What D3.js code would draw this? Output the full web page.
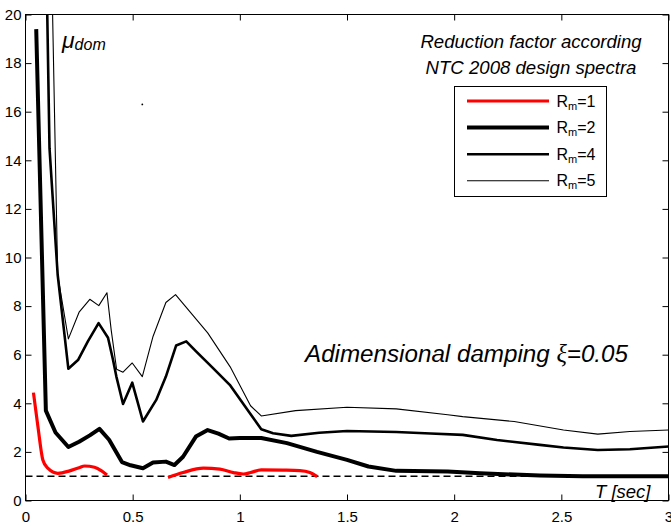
<!DOCTYPE html>
<html>
<head>
<meta charset="utf-8">
<script src="https://cdn.jsdelivr.net/npm/d3@7"></script>
<style>
body { margin: 0; background: #fff; }
svg text { font-family: "Liberation Sans", Arial, Helvetica, sans-serif; fill: #000; }
</style>
</head>
<body>
<div id="chart"></div>
<script>
// tick values / labels
const xTicks = [0, 0.5, 1, 1.5, 2, 2.5, 3]
const xTickLabels = ["0", "0.5", "1", "1.5", "2", "2.5", "3"]
const yTicks = [0, 2, 4, 6, 8, 10, 12, 14, 16, 18, 20]

// series: [period T (sec), mu_dom]
// Rm=1 has a gap (null) between its two pieces
const rm1 = [[0.037, 4.44], [0.058, 3.04], [0.081, 1.67], [0.104, 1.33], [0.151, 1.12], [0.206, 1.22], [0.25, 1.35], [0.276, 1.42], [0.322, 1.37], [0.355, 1.22], [0.38, 1.05],
  null,
  [0.665, 0.95], [0.735, 1.15], [0.83, 1.33], [0.907, 1.29], [0.97, 1.15], [1.016, 1.09], [1.05, 1.15], [1.1, 1.26], [1.2, 1.25], [1.28, 1.23], [1.327, 1.15], [1.361, 0.98]]

const rm2 = [[0.05, 19.4], [0.095, 3.7], [0.14, 2.8], [0.2, 2.2], [0.25, 2.42], [0.3, 2.68], [0.345, 2.95], [0.39, 2.5], [0.45, 1.58], [0.49, 1.45], [0.548, 1.33], [0.595, 1.56], [0.655, 1.6], [0.695, 1.46], [0.735, 1.8], [0.795, 2.63], [0.85, 2.9], [0.9, 2.75], [0.95, 2.55], [1.0, 2.57], [1.1, 2.57], [1.22, 2.36], [1.36, 2.0], [1.5, 1.67], [1.6, 1.4], [1.73, 1.22], [1.97, 1.19], [2.12, 1.12], [2.4, 1.03], [2.6, 1.0], [3.0, 1.0]]

const rm4 = [[0.05, 45], [0.1, 20.8], [0.112, 14.5], [0.15, 9.3], [0.2, 5.42], [0.245, 5.78], [0.291, 6.55], [0.341, 7.3], [0.385, 6.7], [0.408, 5.8], [0.424, 5.1], [0.455, 3.97], [0.498, 4.85], [0.52, 4.15], [0.548, 3.25], [0.61, 4.14], [0.655, 5.1], [0.703, 6.38], [0.75, 6.55], [0.797, 6.13], [0.875, 5.45], [0.953, 4.76], [1.047, 3.59], [1.1, 2.93], [1.155, 2.77], [1.24, 2.66], [1.37, 2.79], [1.5, 2.86], [1.73, 2.82], [1.89, 2.76], [2.04, 2.7], [2.2, 2.49], [2.4, 2.29], [2.51, 2.18], [2.67, 2.08], [2.82, 2.11], [3.0, 2.22]]

const rm5 = [[0.05, 60], [0.1, 32], [0.15, 9.3], [0.2, 6.65], [0.25, 7.75], [0.3, 8.28], [0.342, 8.02], [0.38, 8.55], [0.4, 7.0], [0.425, 5.4], [0.455, 5.28], [0.498, 5.66], [0.545, 5.1], [0.595, 6.75], [0.655, 8.15], [0.7, 8.47], [0.85, 6.9], [0.955, 5.5], [1.05, 3.9], [1.1, 3.48], [1.26, 3.7], [1.5, 3.84], [1.73, 3.77], [1.97, 3.53], [2.04, 3.45], [2.28, 3.25], [2.51, 2.9], [2.67, 2.73], [2.82, 2.84], [3.0, 2.9]]

const unitLine = [[0, 1], [3, 1]]
const strayPoint = [[0.545, 16.3]]

const legendLabels = ["1", "2", "4", "5"]

// svg
const svg = d3.select("#chart").append("svg").attr("width", 671).attr("height", 526)

const x = d3.scaleLinear().domain([0, 3]).range([25.5, 668.5])
const y = d3.scaleLinear().domain([0, 20]).range([500.5, 14.5])

svg.append("defs").append("clipPath").attr("id", "plot")
  .append("rect").attr("x", x(0)).attr("y", y(20)).attr("width", x(3) - x(0)).attr("height", y(0) - y(20))

// axes (ticks pointing in, matlab style)
const fontAxis = g => g.attr("font-family", "Liberation Sans, Arial, sans-serif").attr("font-size", 15)

svg.append("g").attr("transform", `translate(0,${y(0)})`)
  .call(d3.axisBottom(x).tickValues(xTicks).tickFormat((d, i) => xTickLabels[i]).tickSize(-6).tickSizeOuter(0).tickPadding(11))
  .call(fontAxis)
svg.append("g").attr("transform", `translate(0,${y(20)})`)
  .call(d3.axisTop(x).tickValues(xTicks).tickFormat("").tickSize(-6).tickSizeOuter(0))
svg.append("g").attr("transform", `translate(${x(0)},0)`)
  .call(d3.axisLeft(y).tickValues(yTicks).tickSize(-6).tickSizeOuter(0).tickPadding(4))
  .call(fontAxis)
svg.append("g").attr("transform", `translate(${x(3)},0)`)
  .call(d3.axisRight(y).tickValues(yTicks).tickFormat("").tickSize(-6).tickSizeOuter(0))

svg.selectAll(".domain").remove()
svg.selectAll(".tick line").attr("stroke", "#000")

// frame
svg.append("rect").attr("x", x(0)).attr("y", y(20)).attr("width", x(3) - x(0)).attr("height", y(0) - y(20))
  .attr("fill", "none").attr("stroke", "#000").attr("stroke-width", 1)

const plot = svg.append("g").attr("clip-path", "url(#plot)")

const line = d3.line().defined(d => d !== null).x(d => x(d[0])).y(d => y(d[1]))
const smooth = d3.line().defined(d => d !== null).x(d => x(d[0])).y(d => y(d[1])).curve(d3.curveMonotoneX)

// dashed mu = 1 line
plot.append("path").attr("d", line(unitLine)).attr("fill", "none").attr("stroke", "#000").attr("stroke-width", 1.5).attr("stroke-dasharray", "7,4")

plot.append("path").attr("d", line(rm5)).attr("fill", "none").attr("stroke", "#000").attr("stroke-width", 1.1).attr("stroke-linejoin", "round")
plot.append("path").attr("d", line(rm4)).attr("fill", "none").attr("stroke", "#000").attr("stroke-width", 2.6).attr("stroke-linejoin", "round")
plot.append("path").attr("d", line(rm2)).attr("fill", "none").attr("stroke", "#000").attr("stroke-width", 4).attr("stroke-linejoin", "round")
plot.append("path").attr("d", smooth(rm1)).attr("fill", "none").attr("stroke", "#f00").attr("stroke-width", 3.2).attr("stroke-linejoin", "round")

plot.selectAll(".stray").data(strayPoint).enter().append("circle").attr("class", "stray")
  .attr("cx", d => x(d[0])).attr("cy", d => y(d[1])).attr("r", 0.9).attr("fill", "#000")

// mu_dom label
const mu = svg.append("text").attr("x", 62).attr("y", 48).attr("font-style", "italic")
mu.append("tspan").attr("font-size", 23).text("μ")
mu.append("tspan").attr("font-size", 16).attr("dy", 2).text("dom")

// title
svg.append("text").attr("x", 531).attr("y", 48).attr("text-anchor", "middle").attr("font-size", 18.6).attr("font-style", "italic").text("Reduction factor according")
svg.append("text").attr("x", 531).attr("y", 73.5).attr("text-anchor", "middle").attr("font-size", 18.6).attr("font-style", "italic").text("NTC 2008 design spectra")

// legend
svg.append("rect").attr("x", 454.5).attr("y", 86.5).attr("width", 152).attr("height", 110).attr("fill", "#fff").attr("stroke", "#000")
const legendColors = ["#f00", "#000", "#000", "#000"]
const legendWidths = [3.2, 4, 2.6, 1.1]
legendLabels.forEach((lab, i) => {
  const ly = 101 + i * 26.6
  svg.append("line").attr("x1", 467).attr("x2", 549).attr("y1", ly).attr("y2", ly)
    .attr("stroke", legendColors[i]).attr("stroke-width", legendWidths[i])
  const t = svg.append("text").attr("x", 556.5).attr("y", ly + 5.5).attr("font-size", 16)
  t.append("tspan").text("R")
  t.append("tspan").attr("font-size", 11).attr("dy", 3).text("m")
  t.append("tspan").attr("dy", -3).text("=" + lab)
})

// damping note
const note = svg.append("text").attr("x", 305).attr("y", 362).attr("font-size", 24.2).attr("font-style", "italic")
note.append("tspan").text("Adimensional damping ")
note.append("tspan").attr("font-family", "Liberation Serif, Times New Roman, serif").attr("font-style", "italic").text("ξ")
note.append("tspan").text("=0.05")

// x axis name
svg.append("text").attr("x", 595).attr("y", 497.5).attr("font-size", 18.5).attr("font-style", "italic").text("T [sec]")
</script>
</body>
</html>
